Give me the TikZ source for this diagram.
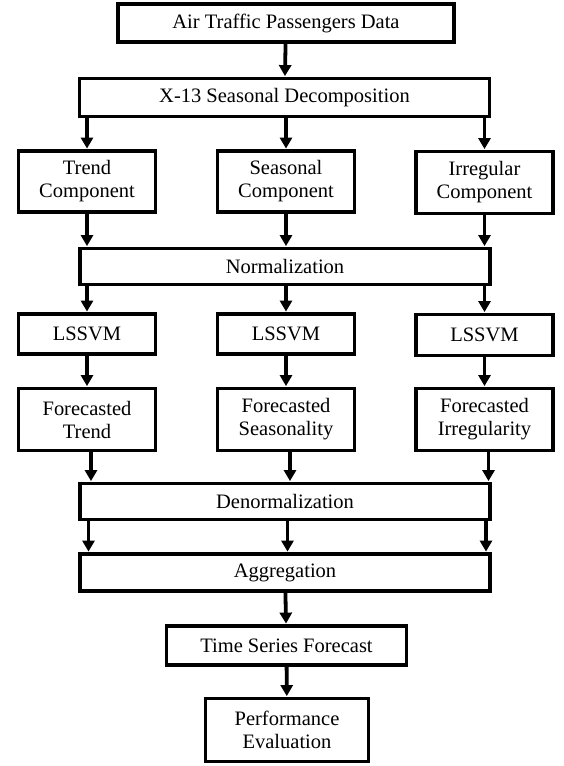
\documentclass[tikz,border=0pt]{standalone}
\usepackage{fontspec}
\setmainfont{Liberation Serif}
\usetikzlibrary{positioning,arrows.meta}

\begin{document}
\begin{tikzpicture}[
    x=1pt, y=-1pt,
    font=\fontsize{20.5}{23}\selectfont,
    box/.style={draw=black, line width=3.8pt, fill=white, inner sep=1pt,
                align=center, minimum width=#1},
    wide/.style={box=410pt, minimum height=36pt},
    col/.style={box=137pt},
    arr/.style={-{Triangle[length=11pt,width=12pt]}, line width=3.8pt, shorten >=0.5pt},
]
\useasboundingbox (0,0) rectangle (563,766);

% ---------- top of the chain ----------
\node[box=336pt, minimum height=38pt] (data) at (286,23)    {Air Traffic Passengers Data};
\node[wide, minimum height=38pt]      (xdec) at (284.5,97.5) {X-13 Seasonal Decomposition};

% ---------- components ----------
\node[col, minimum height=61pt] (trend) at (87,181.5)    {Trend\\Component};
\node[col, minimum height=61pt] (seas)  at (286,181.5)   {Seasonal\\Component};
\node[col, minimum height=62pt] (irr)   at (484.5,182.5) {Irregular\\Component};

\node[wide] (norm) at (285,266.5) {Normalization};

% ---------- models ----------
\node[col, minimum height=40pt] (lstr) at (87,334)    {LSSVM};
\node[col, minimum height=40pt] (lsse) at (286,334)   {LSSVM};
\node[col, minimum height=41pt] (lsir) at (484.5,335) {LSSVM};

\node[col, minimum height=62pt] (fctr) at (87,419.5)    {Forecasted\\Trend};
\node[col, minimum height=62pt] (fcse) at (286,419.5)   {Forecasted\\Seasonality};
\node[col, minimum height=62pt] (fcir) at (484.5,419.5) {Forecasted\\Irregularity};

% ---------- bottom of the chain ----------
\node[wide]                          (denorm) at (285,501.5) {Denormalization};
\node[wide, minimum height=37pt]     (aggr)   at (285,572.5) {Aggregation};
\node[box=240pt, minimum height=39pt] (tsf)   at (286.5,645.5) {Time Series Forecast};
\node[box=163pt, minimum height=63pt] (perf)  at (287,730)   {Performance\\Evaluation};

% ---------- connectors ----------
\draw[arr] (data) -- (xdec);
\foreach \c in {trend,seas,irr}{
  \draw[arr] (xdec.south -| \c) -- (\c);
  \draw[arr] (\c) -- (\c |- norm.north);
}
\foreach \c in {lstr,lsse,lsir}{
  \draw[arr] (norm.south -| \c) -- (\c);
}
\draw[arr] (lstr) -- (fctr);
\draw[arr] (lsse) -- (fcse);
\draw[arr] (lsir) -- (fcir);
\foreach \c in {fctr,fcse,fcir}{
  \draw[arr] ([xshift=4pt]\c.south) -- ([xshift=4pt]\c |- denorm.north);
  \draw[arr] ([xshift=1.5pt]denorm.south -| \c) -- ([xshift=1.5pt]\c |- aggr.north);
}
\draw[arr] (aggr) -- (tsf);
\draw[arr] (tsf) -- (perf);

\end{tikzpicture}
\end{document}
